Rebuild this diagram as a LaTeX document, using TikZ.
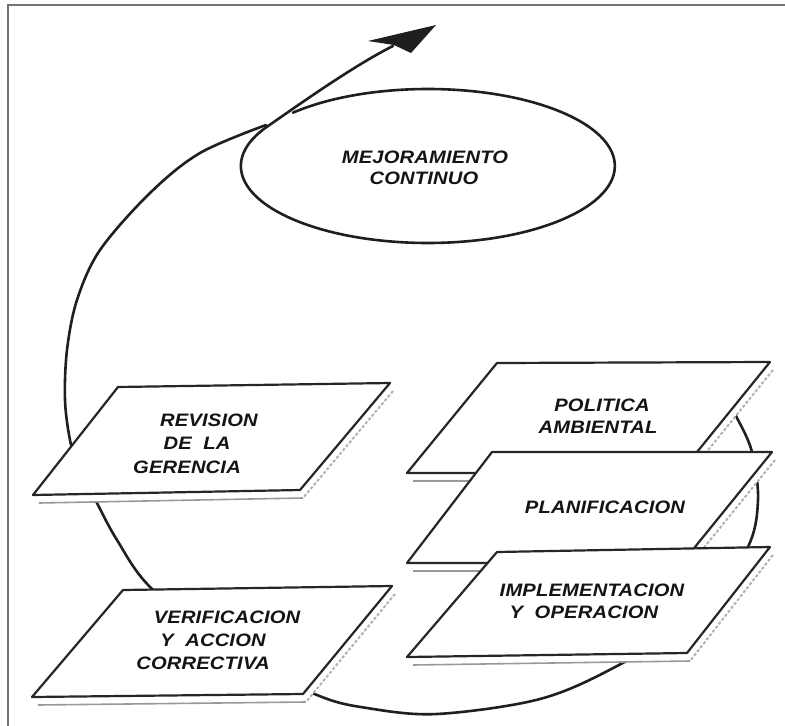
\documentclass[tikz,border=0pt]{standalone}
\usepackage{fontspec}
\setmainfont{Liberation Sans}
\newfontfamily\lblfont[FakeStretch=1.12, LetterSpace=1]{Liberation Sans}
\usetikzlibrary{calc}
\newcommand{\ecobox}[4]{%
  \fill[white] ([shift={(3,8)}]#1) -- ([shift={(3,8)}]#2) -- ([shift={(3,8)}]#3) -- ([shift={(3,8)}]#4) -- cycle;
  \draw[shadowright] ([shift={(3,8)}]#2) -- ([shift={(3,8)}]#3);
  \draw[shadowbot] ([shift={(6,8)}]#4) -- ([shift={(3,8)}]#3);
  \draw[boxline] (#1) -- (#2) -- (#3) -- (#4) -- cycle;
}
\begin{document}
\begin{tikzpicture}[x=1pt,y=-1pt,
  lbl/.style={font=\lblfont\bfseries\itshape\fontsize{18}{22}\selectfont, inner sep=0pt, text=black!92},
  boxline/.style={draw=black!85, line width=2.2pt, line join=round, fill=white},
  shadowright/.style={draw=black!30, line width=2pt, dash pattern=on 3pt off 2pt},
  shadowbot/.style={draw=black!40, line width=1.6pt},
  loopline/.style={draw=black!88, line width=2.6pt, line cap=round, line join=round},
  framec/.style={draw=black!55, line width=2.5pt}]
\useasboundingbox (0,0) rectangle (785,726);
\fill[white] (0,0) rectangle (785,726);
% frame
\coordinate (fbl) at (8,726);
\coordinate (ftl) at (8,5);
\coordinate (ftr) at (785,5);
\draw[framec] (fbl) -- (ftl) -- (ftr);

% big cycle arc
\draw[loopline] plot[smooth, tension=0.55] coordinates {
  (722,395) (737,418) (752,452) (758,500) (748,547) (705,612) (617,666)
  (540,699) (437,714) (367,708) (317,695) (225,650) (150,587) (117,540)
  (97,503) (78,465) (70,440) (65,400) (67,350) (77,300) (100,250)
  (150,193) (200,153) (266,125)};

% ellipse spiral and arrow
\coordinate (es) at (292.9,112.7);
\coordinate (ashaft) at (393,46);
\draw[loopline] (es) arc[start angle=-136.2, end angle=210.6, x radius=187, y radius=77]
  .. controls (297,106) and (353,66) .. (ashaft);
\coordinate (atip) at (436,25);
\coordinate (al) at (368,41);
\coordinate (an) at (394,45);
\coordinate (ar) at (411,53);
\fill[black!88] (atip) -- (al) -- (an) -- (ar) -- cycle;
\node[lbl] (mej1) at (425,157) {MEJORAMIENTO};
\node[lbl] (mej2) at (424,178) {CONTINUO};

% Revision
\coordinate (r1) at (118,387); \coordinate (r2) at (390,383);
\coordinate (r3) at (300,490); \coordinate (r4) at (33,495);
\ecobox{r1}{r2}{r3}{r4}
\node[lbl] (rev1) at (209,420) {REVISION};
\node[lbl] (rev2) at (197,443) {DE\ \ LA};
\node[lbl] (rev3) at (187,467) {GERENCIA};

% Verificacion
\coordinate (v1) at (123,590); \coordinate (v2) at (392,586);
\coordinate (v3) at (303,694); \coordinate (v4) at (32,697);
\ecobox{v1}{v2}{v3}{v4}
\node[lbl] (ver1) at (227,617) {VERIFICACION};
\node[lbl] (ver2) at (213,640) {Y\ \ ACCION};
\node[lbl] (ver3) at (203,663) {CORRECTIVA};

% Politica
\coordinate (p1) at (497,363); \coordinate (p2) at (770,362);
\coordinate (p3) at (680,473); \coordinate (p4) at (407,473);
\ecobox{p1}{p2}{p3}{p4}
\node[lbl] (pol1) at (602,405) {POLITICA};
\node[lbl] (pol2) at (598,427) {AMBIENTAL};

% Planificacion
\coordinate (q1) at (492,452); \coordinate (q2) at (772,452);
\coordinate (q3) at (682,563); \coordinate (q4) at (407,563);
\ecobox{q1}{q2}{q3}{q4}
\node[lbl] (pla1) at (605,507) {PLANIFICACION};

% Implementacion
\coordinate (i1) at (497,552); \coordinate (i2) at (770,547);
\coordinate (i3) at (687,653); \coordinate (i4) at (407,657);
\ecobox{i1}{i2}{i3}{i4}
\node[lbl] (imp1) at (592,590) {IMPLEMENTACION};
\node[lbl] (imp2) at (584,612) {Y\ \ OPERACION};
\end{tikzpicture}
\end{document}
